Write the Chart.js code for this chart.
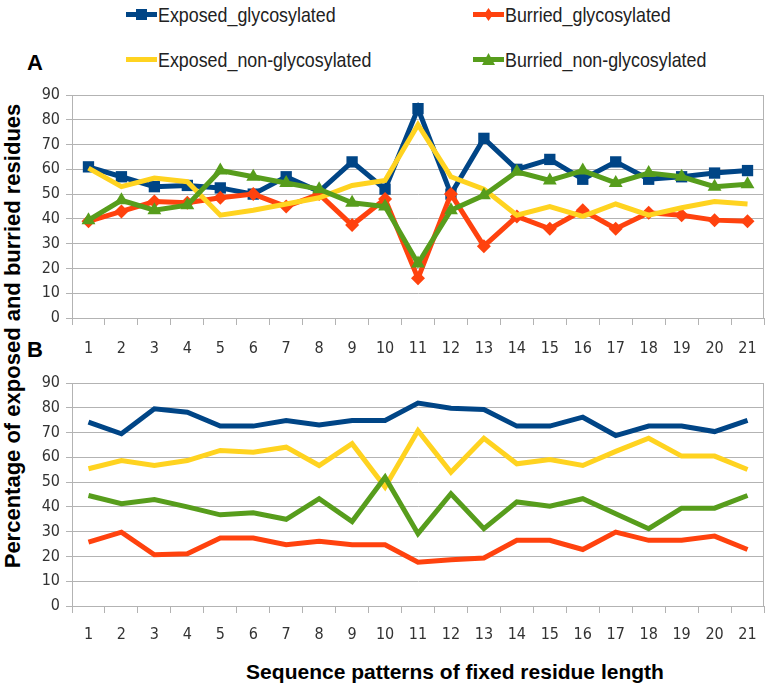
<!DOCTYPE html>
<html>
<head>
<meta charset="utf-8">
<script src="https://cdn.jsdelivr.net/npm/chart.js@4.4.0/dist/chart.umd.min.js"></script>
<style>
  body { margin:0; background:#fff; width:772px; height:687px; position:relative; overflow:hidden;
         font-family:"Liberation Sans", Arial, sans-serif; }
  canvas { position:absolute; left:0; }
  .sw { position:absolute; }
  .leg { position:absolute; height:24px; line-height:24px; white-space:nowrap; color:#222;
         font-family:"Liberation Sans", Arial, sans-serif; font-size:21px;
         transform:scaleX(0.85); transform-origin:0 50%; }
  .tag { position:absolute; font-weight:bold; font-size:22px; color:#000; }
  .title { position:absolute; font-weight:bold; font-size:21px; color:#000; white-space:nowrap; }
</style>
</head>
<body>
<div id="legend"></div>
<div class="tag" style="left:27px;top:50px">A</div>
<div class="tag" style="left:27px;top:337px">B</div>
<div class="title" id="ytitle" style="left:13px;top:336px;font-size:22px;transform:translate(-50%,-50%) rotate(-90deg)">Percentage of exposed and burried residues</div>
<div class="title" id="xtitle" style="left:455px;top:672px;transform:translate(-50%,-50%)">Sequence patterns of fixed residue length</div>
<canvas id="chartA" width="772" height="290" style="top:75px"></canvas>
<canvas id="chartB" width="772" height="281" style="top:365px"></canvas>
<script>
// categories (sequence patterns)
var categories = ['1','2','3','4','5','6','7','8','9','10','11','12','13','14','15','16','17','18','19','20','21'];
var seriesNames = ['Exposed_glycosylated', 'Burried_glycosylated', 'Exposed_non-glycosylated', 'Burried_non-glycosylated'];
var yTicks = [0, 10, 20, 30, 40, 50, 60, 70, 80, 90];

// panel A
var expGlyA = [61, 57, 53, 53.5, 52.5, 50, 57, 51, 63, 52, 84.5, 50, 72.5, 60, 64, 56, 63, 56, 57, 58.5, 59.5];
var burGlyA = [39, 43, 47, 46.5, 48.5, 50, 45, 50, 37.5, 48, 16, 50, 29, 41, 36, 43.5, 36, 42.5, 41.5, 39.5, 39];
var expNonA = [60.5, 53, 56.5, 55, 41.5, 43.5, 46, 48.5, 53.5, 55.5, 78, 57, 52, 41.5, 45, 41, 46, 41.5, 44.5, 47, 46];
var burNonA = [39.5, 47.5, 43.5, 45.5, 59.5, 57, 54.5, 52, 46.5, 45, 22, 43.5, 49.5, 59, 55.5, 59.5, 54.5, 58.5, 57, 53, 54];

// panel B
var expGlyB = [74.2, 69.5, 79.6, 78.2, 72.6, 72.6, 74.9, 73.1, 74.9, 74.9, 81.9, 79.8, 79.3, 72.6, 72.6, 76.2, 68.8, 72.6, 72.6, 70.4, 74.9];
var burGlyB = [25.8, 29.8, 20.7, 21.1, 27.4, 27.4, 24.7, 26.1, 24.7, 24.7, 17.7, 18.7, 19.4, 26.5, 26.5, 22.8, 29.8, 26.5, 26.5, 28.2, 22.8];
var expNonB = [55.4, 58.7, 56.7, 58.7, 62.8, 62.1, 64.1, 56.7, 65.5, 48, 70.8, 54, 67.7, 57.4, 59.1, 56.7, 62.4, 67.7, 60.5, 60.5, 55.1];
var burNonB = [44.6, 41.3, 43, 40, 36.8, 37.6, 35, 43.3, 34.1, 52, 29.2, 45.3, 31.2, 42, 40.3, 43.3, 37.2, 31.2, 39.5, 39.5, 44.6];

var colors = ['#004586', '#ff420e', '#ffd320', '#579d1c'];
var markers = ['rect', 'rectRot', false, 'triangle'];
var markerSize = [8, 7, 0, 8];

// html legend, 2 columns
var legPos = [[126, 3], [473, 3], [126, 48], [473, 48]];
var legHtml = '';
seriesNames.forEach(function(name, i) {
  var c = colors[i], m = '';
  if (markers[i] == 'rect') m = '<rect x="10" y="3" width="11" height="11" fill="' + c + '"/>';
  if (markers[i] == 'rectRot') m = '<polygon points="15.5,2 20,8.5 15.5,15 11,8.5" fill="' + c + '"/>';
  if (markers[i] == 'triangle') m = '<polygon points="15.5,2 22,14 9,14" fill="' + c + '"/>';
  legHtml += '<svg class="sw" width="32" height="17" style="left:' + legPos[i][0] + 'px;top:' + (legPos[i][1] + 3) + 'px">' +
    '<line x1="0" y1="8.5" x2="31" y2="8.5" stroke="' + c + '" stroke-width="5"/>' + m + '</svg>' +
    '<div class="leg" style="left:' + (legPos[i][0] + 32) + 'px;top:' + legPos[i][1] + 'px">' + name + '</div>';
});
document.getElementById('legend').innerHTML = legHtml;

var frame = {
  id: 'frame',
  beforeDatasetsDraw: function(chart) {
    var a = chart.chartArea, ctx = chart.ctx;
    ctx.save();
    ctx.strokeStyle = '#b3b3b3';
    ctx.lineWidth = 1;
    ctx.strokeRect(a.left + 0.5, a.top + 0.5, a.right - a.left - 1, a.bottom - a.top);
    ctx.restore();
  }
};

var tickFont = { family: '"DejaVu Sans Condensed","Liberation Sans",sans-serif', size: 16 };

function makePanel(id, values, withMarkers, padTop, xHeight, labelPad) {
  var datasets = values.map(function(v, i) {
    return {
      label: seriesNames[i],
      data: v,
      borderColor: colors[i],
      backgroundColor: colors[i],
      borderWidth: 5,
      tension: 0,
      order: 4 - i,
      pointStyle: withMarkers && markers[i] ? markers[i] : false,
      pointRadius: withMarkers ? markerSize[i] : 0,
      pointBorderWidth: 0
    };
  });
  return new Chart(document.getElementById(id), {
    type: 'line',
    data: { labels: categories, datasets: datasets },
    options: {
      responsive: false,
      animation: false,
      devicePixelRatio: 1,
      layout: { padding: { top: padTop, right: 8, left: 0, bottom: 0 } },
      plugins: { legend: { display: false }, tooltip: { enabled: false } },
      scales: {
        x: {
          offset: true,
          grid: { offset: true, drawOnChartArea: false, tickLength: 7, color: '#b3b3b3' },
          border: { color: '#b3b3b3' },
          ticks: { font: tickFont, color: '#333', padding: labelPad, maxRotation: 0, autoSkip: false },
          afterFit: function(s) { s.height = xHeight; }
        },
        y: {
          min: 0, max: 90,
          afterBuildTicks: function(s) { s.ticks = yTicks.map(function(v) { return { value: v }; }); },
          grid: { color: '#b3b3b3', tickLength: 6 },
          border: { color: '#b3b3b3' },
          ticks: { font: tickFont, color: '#333', padding: 6 },
          afterFit: function(s) { s.width = 72; }
        }
      }
    },
    plugins: [frame]
  });
}

makePanel('chartA', [expGlyA, burGlyA, expNonA, burNonA], true, 20, 47, 14);
makePanel('chartB', [expGlyB, burGlyB, expNonB, burNonB], false, 18, 40, 12);
</script>
</body>
</html>
